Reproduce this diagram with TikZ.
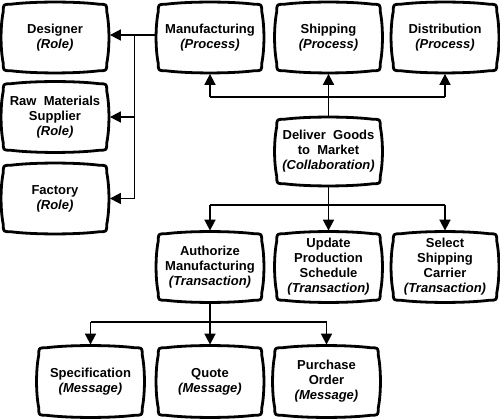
\documentclass[tikz,border=0pt]{standalone}
\usepackage{fontspec}
\setmainfont{Liberation Sans}
\usetikzlibrary{calc,arrows.meta}
\tikzset{
  tv/.style={minimum width=103pt, minimum height=66pt, inner sep=0pt, align=center,
    font=\fontsize{13}{15}\selectfont\bfseries},
  boxline/.style={line width=2.8pt, line join=round},
  conn/.style={line width=1.7pt},
  arr/.style={conn, -{Triangle[length=11pt,width=11pt]}, shorten >=3.2pt},
}
\newcommand\tvshape[1]{%
  \draw[boxline] let \p1=(#1.north west), \p2=(#1.south east) in
    (\x1,\y1-7pt) .. controls (\x1,\y1) .. (\x1+7pt,\y1)
    .. controls (\x1+30pt,\y1+3pt) and (\x2-30pt,\y1+3pt) .. (\x2-7pt,\y1)
    .. controls (\x2,\y1) .. (\x2,\y1-7pt)
    .. controls (\x2+3pt,\y1-22pt) and (\x2+3pt,\y2+22pt) .. (\x2,\y2+7pt)
    .. controls (\x2,\y2) .. (\x2-7pt,\y2)
    .. controls (\x2-30pt,\y2-3pt) and (\x1+30pt,\y2-3pt) .. (\x1+7pt,\y2)
    .. controls (\x1,\y2) .. (\x1,\y2+7pt)
    .. controls (\x1-3pt,\y2+22pt) and (\x1-3pt,\y1-22pt) .. cycle;}
\begin{document}
\begin{tikzpicture}[x=1pt,y=-1pt]
\useasboundingbox (0,0) rectangle (500,419);
% row 1
\node[tv] (des) at (55,37.5) {Designer\\\textit{(Role)}};
\node[tv] (man) at (210,37.5) {Manufacturing\\\textit{(Process)}};
\node[tv] (shp) at (328.5,37.5) {Shipping\\\textit{(Process)}};
\node[tv] (dst) at (445,37.5) {Distribution\\\textit{(Process)}};
% left column
\node[tv] (raw) at (55,117) {Raw\ \ Materials\\Supplier\\\textit{(Role)}};
\node[tv] (fac) at (55,198.5) {Factory\\\textit{(Role)}};
% collaboration
\node[tv, minimum height=64pt] (del) at (328.5,151.5) {Deliver\ \ Goods\\to\ \ Market\\\textit{(Collaboration)}};
% transactions
\node[tv] (aut) at (210,267) {Authorize\\Manufacturing\\\textit{(Transaction)}};
\node[tv] (upd) at (328.5,267) {Update\\Production\\Schedule\\\textit{(Transaction)}};
\node[tv] (sel) at (445,267) {Select\\Shipping\\Carrier\\\textit{(Transaction)}};
% messages
\node[tv, minimum height=67pt] (spc) at (90.5,381.5) {Specification\\\textit{(Message)}};
\node[tv, minimum height=67pt] (quo) at (210,381.5) {Quote\\\textit{(Message)}};
\node[tv, minimum height=67pt] (pur) at (326.5,381.5) {Purchase\\Order\\\textit{(Message)}};
\foreach \nm in {des,man,shp,dst,raw,fac,del,aut,upd,sel,spc,quo,pur} {\tvshape{\nm}}
% junction coordinates
\coordinate (vb) at (134.5,35);
\coordinate (hb1) at (0,97);
\coordinate (hb2) at (0,205);
\coordinate (hb3) at (0,322);
% manufacturing to roles
\draw[conn, shorten <=1.4pt] (man.west |- vb) -- (vb) -- (vb |- fac.east);
\draw[arr] (vb) -- (vb -| des.east);
\draw[arr] (vb |- raw.east) -- (raw.east);
\draw[arr] (vb |- fac.east) -- (fac.east);
% collaboration to processes
\draw[conn, shorten <=1.4pt] (del.north) -- (del.north |- hb1);
\draw[conn] (man |- hb1) -- (dst |- hb1);
\draw[arr] (man |- hb1) -- (man.south);
\draw[arr] (shp |- hb1) -- (shp.south);
\draw[arr] (dst |- hb1) -- (dst.south);
% collaboration to transactions
\draw[conn, shorten <=1.4pt] (del.south) -- (del.south |- hb2);
\draw[conn] (aut |- hb2) -- (sel |- hb2);
\draw[arr] (aut |- hb2) -- (aut.north);
\draw[arr] (upd |- hb2) -- (upd.north);
\draw[arr] (sel |- hb2) -- (sel.north);
% transaction to messages
\draw[conn, shorten <=1.4pt] (aut.south) -- (aut.south |- hb3);
\draw[conn] (spc |- hb3) -- (pur |- hb3);
\draw[arr] (spc |- hb3) -- (spc.north);
\draw[arr] (quo |- hb3) -- (quo.north);
\draw[arr] (pur |- hb3) -- (pur.north);
\end{tikzpicture}
\end{document}
